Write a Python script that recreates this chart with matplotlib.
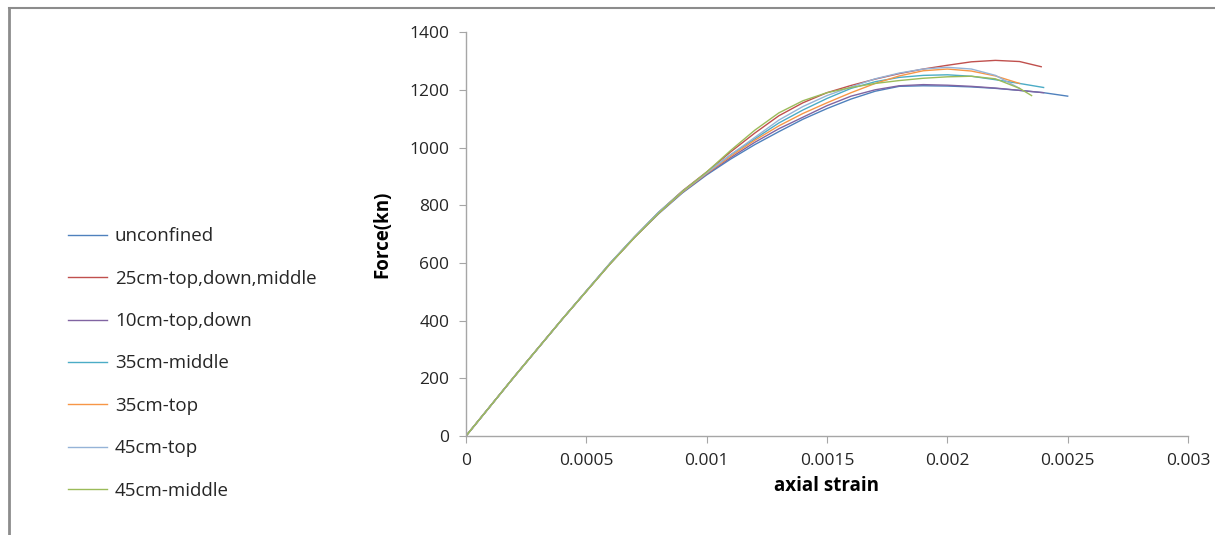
import matplotlib.pyplot as plt
from matplotlib.lines import Line2D

# strain / force readings (kN) for each specimen
labels = ['unconfined', '25cm-top,down,middle', '10cm-top,down', '35cm-middle',
          '35cm-top', '45cm-top', '45cm-middle']
colors = ['#4F81BD', '#C0504D', '#8064A2', '#4BACC6', '#F79646', '#95B3D7', '#9BBB59']

strain_unconf = [0, 0.0002, 0.0004, 0.0006, 0.0007, 0.0008, 0.0009, 0.001, 0.0011, 0.0012, 0.0013, 0.0014,
                 0.0015, 0.0016, 0.0017, 0.0018, 0.0019, 0.002, 0.0021, 0.0022, 0.0023, 0.0024, 0.0025]
force_unconf = [0, 205, 405, 598, 688, 770, 843, 905, 960, 1010, 1055, 1098,
                1135, 1168, 1195, 1212, 1214, 1213, 1210, 1205, 1198, 1190, 1178]

strain_25 = [0, 0.0002, 0.0004, 0.0006, 0.0007, 0.0008, 0.0009, 0.001, 0.0011, 0.0012, 0.0013, 0.0014,
             0.0015, 0.0016, 0.0017, 0.0018, 0.0019, 0.002, 0.0021, 0.0022, 0.0023, 0.00239]
force_25 = [0, 205, 405, 600, 690, 775, 850, 915, 985, 1050, 1110, 1155,
            1190, 1215, 1237, 1256, 1272, 1285, 1297, 1302, 1298, 1280]

strain_10 = [0, 0.0002, 0.0004, 0.0006, 0.0007, 0.0008, 0.0009, 0.001, 0.0011, 0.0012, 0.0013, 0.0014,
             0.0015, 0.0016, 0.0017, 0.0018, 0.0019, 0.002, 0.0021, 0.0022, 0.0023, 0.0024]
force_10 = [0, 205, 405, 598, 688, 772, 846, 908, 965, 1018, 1065, 1105,
            1145, 1178, 1200, 1214, 1218, 1216, 1212, 1206, 1198, 1190]

strain_35m = [0, 0.0002, 0.0004, 0.0006, 0.0007, 0.0008, 0.0009, 0.001, 0.0011, 0.0012, 0.0013, 0.0014,
              0.0015, 0.0016, 0.0017, 0.0018, 0.0019, 0.002, 0.0021, 0.0022, 0.0023, 0.0024]
force_35m = [0, 205, 405, 600, 690, 775, 848, 912, 975, 1030, 1085, 1130,
             1170, 1205, 1228, 1243, 1250, 1252, 1247, 1235, 1222, 1208]

strain_35t = [0, 0.0002, 0.0004, 0.0006, 0.0007, 0.0008, 0.0009, 0.001, 0.0011, 0.0012, 0.0013, 0.0014,
              0.0015, 0.0016, 0.0017, 0.0018, 0.0019, 0.002, 0.0021, 0.0022, 0.0023]
force_35t = [0, 205, 405, 598, 688, 772, 846, 910, 970, 1025, 1075, 1118,
             1155, 1190, 1222, 1248, 1266, 1272, 1265, 1248, 1222]

strain_45t = [0, 0.0002, 0.0004, 0.0006, 0.0007, 0.0008, 0.0009, 0.001, 0.0011, 0.0012, 0.0013, 0.0014,
              0.0015, 0.0016, 0.0017, 0.0018, 0.0019, 0.002, 0.0021, 0.0022, 0.0023]
force_45t = [0, 205, 405, 600, 690, 775, 848, 912, 975, 1035, 1095, 1142,
             1180, 1210, 1238, 1258, 1272, 1278, 1272, 1250, 1205]

strain_45m = [0, 0.0002, 0.0004, 0.0006, 0.0007, 0.0008, 0.0009, 0.001, 0.0011, 0.0012, 0.0013, 0.0014,
              0.0015, 0.0016, 0.0017, 0.0018, 0.0019, 0.002, 0.0021, 0.0022, 0.0023, 0.00235]
force_45m = [0, 205, 405, 598, 688, 772, 848, 915, 990, 1060, 1120, 1162,
             1190, 1208, 1222, 1232, 1240, 1245, 1247, 1238, 1205, 1180]

strains = [strain_unconf, strain_25, strain_10, strain_35m, strain_35t, strain_45t, strain_45m]
forces = [force_unconf, force_25, force_10, force_35m, force_35t, force_45t, force_45m]

plt.rcParams['font.family'] = ['Open Sans', 'DejaVu Sans']

fig = plt.figure(figsize=(12.15, 5.35), dpi=100)
ax = fig.add_axes([0.3835, 0.185, 0.5943, 0.755])

handles = []
for s, f, c, lab in zip(strains, forces, colors, labels):
    ln, = ax.plot(s, f, color=c, linewidth=1.0, label=lab, solid_joinstyle='round')
    handles.append(ln)

ax.set_xlim(0, 0.003)
ax.set_ylim(0, 1400)
ax.set_xticks([0, 0.0005, 0.001, 0.0015, 0.002, 0.0025, 0.003])
ax.set_xticklabels(['0', '0.0005', '0.001', '0.0015', '0.002', '0.0025', '0.003'])
ax.set_yticks(range(0, 1401, 200))

for side in ['top', 'right']:
    ax.spines[side].set_visible(False)
for side in ['left', 'bottom']:
    ax.spines[side].set_color('#a6a6a6')
    ax.spines[side].set_linewidth(1)
ax.tick_params(colors='#a6a6a6', labelcolor='#262626', labelsize=12.5, length=5, pad=7)

ax.set_xlabel('axial strain', fontsize=13.5, fontweight='bold', labelpad=5)
ax.set_ylabel('Force(kn)', fontsize=13.5, fontweight='bold', labelpad=12)

fig.legend(handles=handles, loc='center left', bbox_to_anchor=(0.056, 0.3206),
           frameon=False, fontsize=13.5, labelspacing=1.3, handlelength=2.1,
           handletextpad=0.4, borderpad=0, borderaxespad=0, labelcolor='#262626')

# outer frame lines (top and left)
fig.add_artist(Line2D([0.0075, 1.0], [1 - 8 / 535, 1 - 8 / 535], color='#8c8c8c', linewidth=1.5,
                      transform=fig.transFigure))
fig.add_artist(Line2D([0.0075, 0.0075], [0, 1 - 8 / 535], color='#8c8c8c', linewidth=2,
                      transform=fig.transFigure))

fig.savefig('out.png', dpi=100)
